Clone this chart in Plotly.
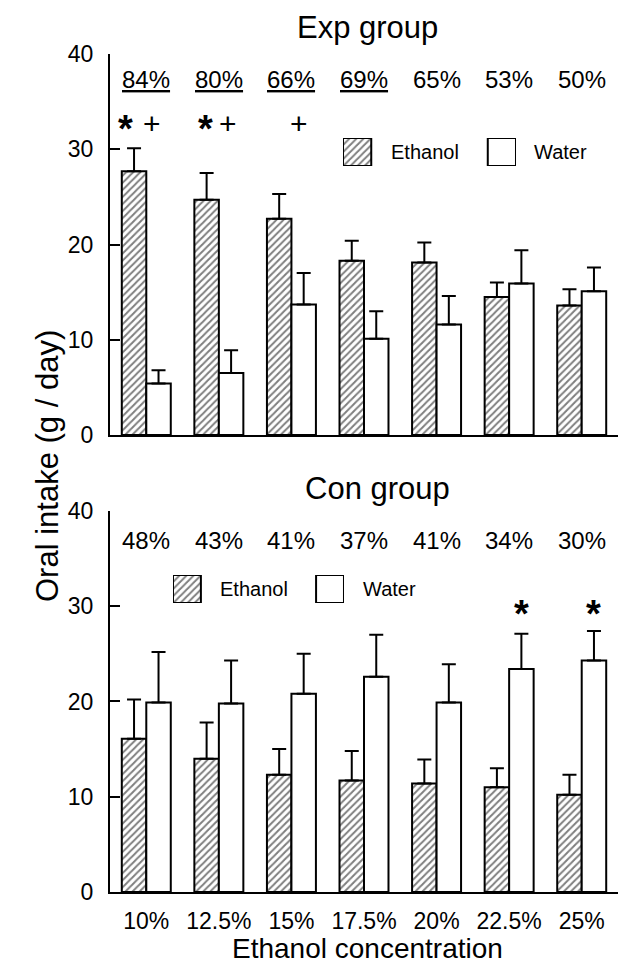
import plotly.graph_objects as go

# ---------------- data ----------------
concentrations = ["10%", "12.5%", "15%", "17.5%", "20%", "22.5%", "25%"]

exp_ethanol = [27.7, 24.7, 22.7, 18.3, 18.1, 14.5, 13.6]
exp_ethanol_err = [2.4, 2.8, 2.6, 2.1, 2.1, 1.5, 1.7]
exp_water = [5.4, 6.5, 13.7, 10.1, 11.6, 15.9, 15.1]
exp_water_err = [1.4, 2.4, 3.3, 2.9, 3.0, 3.5, 2.5]

con_ethanol = [16.1, 14.0, 12.3, 11.7, 11.4, 11.0, 10.2]
con_ethanol_err = [4.1, 3.8, 2.7, 3.1, 2.5, 2.0, 2.1]
con_water = [19.9, 19.8, 20.8, 22.6, 19.9, 23.4, 24.3]
con_water_err = [5.3, 4.5, 4.2, 4.4, 4.0, 3.7, 3.1]

exp_pref = ["84%", "80%", "66%", "69%", "65%", "53%", "50%"]
exp_pref_underlined = [True, True, True, True, False, False, False]
con_pref = ["48%", "43%", "41%", "37%", "41%", "34%", "30%"]

y_ticks = [0, 10, 20, 30, 40]

FONT = "Liberation Sans, Arial, Helvetica, sans-serif"
BLACK = "black"

hatch = dict(shape="/", fgcolor=BLACK, bgcolor="white", size=5, solidity=0.4)


def bar(x, y, err, hatched, xa, ya):
    return go.Bar(
        x=x, y=y, xaxis=xa, yaxis=ya,
        marker=dict(color="white", line=dict(color=BLACK, width=2),
                    pattern=hatch if hatched else dict(shape="")),
        error_y=dict(type="data", symmetric=False, array=err,
                     arrayminus=[0] * len(err), color=BLACK,
                     thickness=2, width=7),
        showlegend=False, hoverinfo="skip",
    )


fig = go.Figure()
fig.add_trace(bar(concentrations, exp_ethanol, exp_ethanol_err, True, "x", "y"))
fig.add_trace(bar(concentrations, exp_water, exp_water_err, False, "x", "y"))
fig.add_trace(bar(concentrations, con_ethanol, con_ethanol_err, True, "x2", "y2"))
fig.add_trace(bar(concentrations, con_water, con_water_err, False, "x2", "y2"))

# legend swatches (drawn on small auxiliary axes)
legend_names = ["Ethanol", "Water"]
for xa, ya in (("x3", "y3"), ("x4", "y4")):
    fig.add_trace(go.Bar(
        x=legend_names, y=[1, 1], xaxis=xa, yaxis=ya, width=0.195,
        marker=dict(color="white", line=dict(color=BLACK, width=2),
                    pattern=dict(shape=["/", ""], fgcolor=BLACK, bgcolor="white",
                                 size=5, solidity=0.4)),
        showlegend=False, hoverinfo="skip",
    ))

yax = dict(range=[0, 40], tickvals=y_ticks, ticks="inside", ticklen=10, tickwidth=2,
           tickcolor=BLACK, showline=True, linewidth=2, linecolor=BLACK,
           showgrid=False, zeroline=False, ticklabelstandoff=10,
           tickfont=dict(family=FONT, size=23, color=BLACK), fixedrange=True)
xax = dict(showline=True, linewidth=2, linecolor=BLACK, ticks="", showgrid=False,
           zeroline=False, range=[-0.5, 6.5],
           tickfont=dict(family=FONT, size=23, color=BLACK), fixedrange=True)
aux = dict(visible=False, fixedrange=True)

fig.update_layout(
    width=636, height=968, autosize=False,
    margin=dict(l=110, r=18, t=54, b=76),
    paper_bgcolor="white", plot_bgcolor="rgba(0,0,0,0)",
    barmode="group", bargap=0.325, bargroupgap=0,
    showlegend=False,
    font=dict(family=FONT, color=BLACK),
    xaxis=dict(xax, domain=[0, 1], anchor="y", showticklabels=False),
    yaxis=dict(yax, domain=[0.5453, 1.0], anchor="x"),
    xaxis2=dict(xax, domain=[0, 1], anchor="y2", showticklabels=True, ticklabelstandoff=7),
    yaxis2=dict(yax, domain=[0.0, 0.4547], anchor="x2"),
    xaxis3=dict(aux, domain=[0.4587, 0.7992], anchor="y3", range=[-0.0975, 1.0975]),
    yaxis3=dict(aux, domain=[0.8663, 0.8998], anchor="x3", range=[0, 1]),
    xaxis4=dict(aux, domain=[0.124, 0.4606], anchor="y4", range=[-0.0975, 1.0975]),
    yaxis4=dict(aux, domain=[0.3449, 0.3783], anchor="x4", range=[0, 1]),
)

ann = []
# preference percentages
for i, (p, u) in enumerate(zip(exp_pref, exp_pref_underlined)):
    ann.append(dict(x=i, y=37.3, xref="x", yref="y", text=f"<u>{p}</u>" if u else p,
                    showarrow=False, font=dict(size=24)))
for i, p in enumerate(con_pref):
    ann.append(dict(x=i, y=36.9, xref="x2", yref="y2", text=p,
                    showarrow=False, font=dict(size=24)))

# significance marks
star = dict(showarrow=False, font=dict(size=38), yshift=-6)
plus = dict(showarrow=False, font=dict(size=30))
ann += [
    dict(star, x=-0.29, y=32.75, xref="x", yref="y", text="<b>*</b>"),
    dict(plus, x=0.08, y=32.75, xref="x", yref="y", text="+"),
    dict(star, x=1 - 0.18, y=32.75, xref="x", yref="y", text="<b>*</b>"),
    dict(plus, x=1 + 0.12, y=32.75, xref="x", yref="y", text="+"),
    dict(plus, x=2 + 0.10, y=32.75, xref="x", yref="y", text="+"),
    dict(star, x=5 + 0.169, y=29.8, xref="x2", yref="y2", text="<b>*</b>"),
    dict(star, x=6 + 0.169, y=29.8, xref="x2", yref="y2", text="<b>*</b>"),
]

# legend labels
lab = dict(showarrow=False, xref="paper", yref="paper", xanchor="left",
           yanchor="middle", font=dict(size=20))
ann += [
    dict(lab, x=0.549, y=0.883, text="Ethanol"),
    dict(lab, x=0.8307, y=0.883, text="Water"),
    dict(lab, x=0.2126, y=0.3616, text="Ethanol"),
    dict(lab, x=0.494, y=0.3616, text="Water"),
]

# titles
ann += [
    dict(x=0.506, y=1.032, xref="paper", yref="paper", text="Exp group",
         showarrow=False, font=dict(size=31), yanchor="middle"),
    dict(x=0.527, y=0.481, xref="paper", yref="paper", text="Con group",
         showarrow=False, font=dict(size=31), yanchor="middle"),
    dict(x=-0.161, y=0.508, xref="paper", yref="paper", text="Oral intake (g / day)",
         textangle=-90, showarrow=False, font=dict(size=31)),
    dict(x=0.506, y=-0.068, xref="paper", yref="paper", text="Ethanol concentration",
         showarrow=False, font=dict(size=28), yanchor="middle"),
]
fig.update_layout(annotations=ann)

fig.write_html("out.html", config={"displayModeBar": False})
